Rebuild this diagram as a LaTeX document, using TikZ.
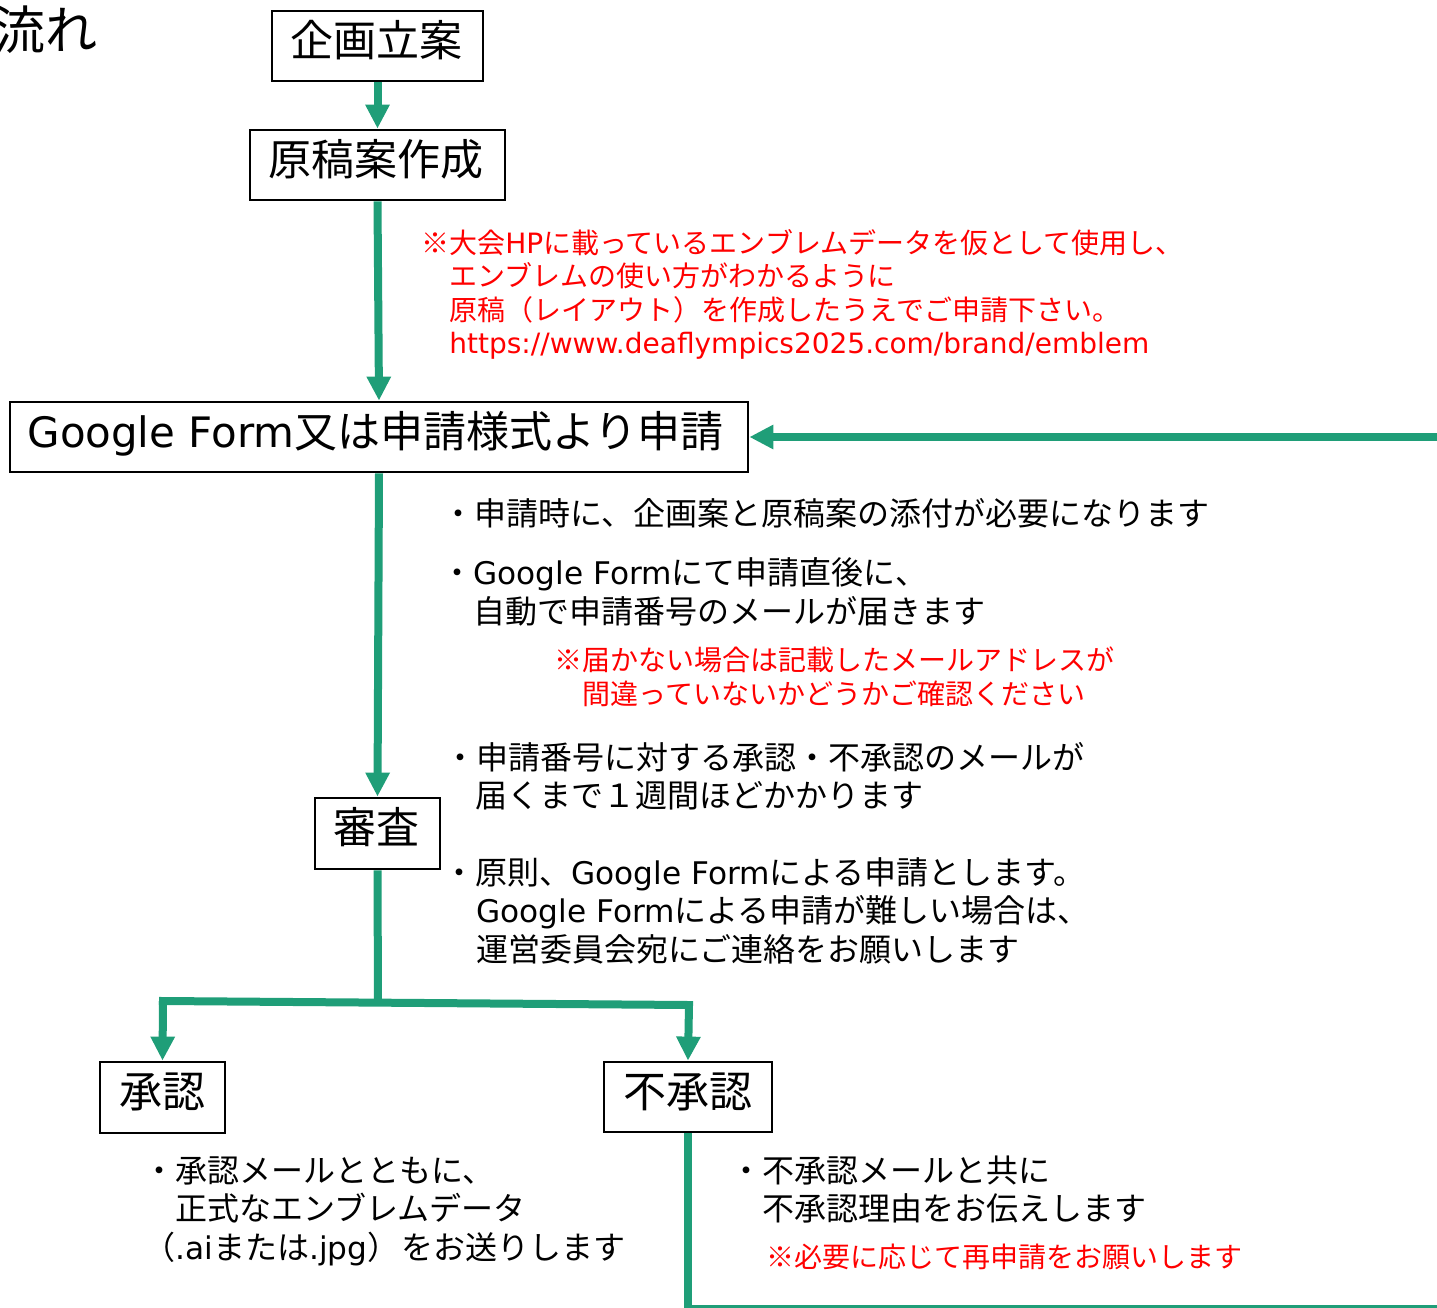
\documentclass[tikz,border=0pt]{standalone}
\usepackage{fontspec}
\usetikzlibrary{arrows.meta}
\setmainfont{Noto Sans CJK JP}
\newfontfamily\latf[Scale=0.975]{DejaVu Sans}
\newfontfamily\urlf[Scale=1.0]{DejaVu Sans}
\newcommand\lat[1]{{\latf #1}}
\definecolor{flow}{HTML}{1F9E78}
\definecolor{note}{HTML}{FF0000}
\tikzset{
  flowbox/.style={draw=black,line width=1.4pt,fill=white,inner sep=0pt,
    font=\fontsize{21.5pt}{21.5pt}\selectfont,text height=18.9pt,text depth=8.6pt,anchor=center},
  body/.style={anchor=west,inner sep=0pt,text=black,
    font=\fontsize{16pt}{16pt}\selectfont,text height=14.1pt,text depth=1.9pt},
  red/.style={anchor=west,inner sep=0pt,text=note,
    font=\fontsize{14pt}{14pt}\selectfont,text height=12.3pt,text depth=1.7pt},
  big/.style={anchor=west,inner sep=0pt,
    font=\fontsize{26pt}{26pt}\selectfont,text height=22.9pt,text depth=3.1pt},
  conn/.style={draw=flow,line width=4pt},
  arr/.style={conn,-{Triangle[width=11.5pt,length=12pt]}},
}
\begin{document}
\begin{tikzpicture}[x=0.5pt,y=-0.5pt]
\useasboundingbox (0,0) rectangle (1437,1308);
\clip (0,0) rectangle (1437,1308);
% coordinates
\coordinate (j0) at (378,1003);
\coordinate (j1) at (163,1001);
\coordinate (j2) at (689,1005);
\coordinate (r1) at (1447,1309);
\coordinate (r2) at (1447,437);
% boxes
\node[big] (title) at (-7,30) {流れ};
\node[flowbox,minimum width=105.5pt,minimum height=35pt] (a) at (377.5,46) {企画立案\kern1pt};
\node[flowbox,minimum width=127.5pt,minimum height=35pt] (b) at (377.5,165) {原稿案作成\kern2pt};
\node[flowbox,minimum width=369pt,minimum height=35pt] (c) at (379,437) {\lat{Google Form}又は申請様式より申請\kern3.5pt};
\node[flowbox,minimum width=62.5pt,minimum height=35.5pt] (d) at (377.5,833.5) {審査\kern1pt};
\node[flowbox,minimum width=62.5pt,minimum height=35.5pt] (e) at (162.5,1097.5) {承認};
\node[flowbox,minimum width=84pt,minimum height=35pt] (f) at (688,1097) {不承認};
% connectors
\draw[arr] (a.south) -- (b.north);
\draw[arr] (b.south) -- (c.north);
\draw[arr] (c.south) -- (d.north);
\draw[conn] (d.south) -- (j0);
\draw[conn,line cap=rect] (j1) -- (j2);
\draw[arr] (j1) -- (e.north);
\draw[arr] (j2) -- (f.north);
\draw[conn] (f.south) |- (r1);
\draw[arr] (r2) -- (r2 -| c.east);
% red note under the draft box
\node[red] (n1) at (421,243) {※大会{\urlf HP}に載っているエンブレムデータを仮として使用し、};
\node[red] (n2) at (449,276) {エンブレムの使い方がわかるように};
\node[red] (n3) at (449,310) {原稿（レイアウト）を作成したうえでご申請下さい。};
\node[red] (n4) at (449,343) {{\urlf https://www.deaflympics2025.com/brand/emblem}};
% application notes
\node[body] (t1) at (442,513) {・申請時に、企画案と原稿案の添付が必要になります};
\node[body] (t2) at (441,572) {・\lat{Google Form}にて申請直後に、};
\node[body] (t3) at (473,611) {自動で申請番号のメールが届きます};
\node[red] (n5) at (554,660) {※届かない場合は記載したメールアドレスが};
\node[red] (n6) at (582,694) {間違っていないかどうかご確認ください};
\node[body] (t4) at (444,757) {・申請番号に対する承認・不承認のメールが};
\node[body] (t5) at (475,795) {届くまで１週間ほどかかります};
\node[body] (t6) at (443,872) {・原則、\lat{Google Form}による申請とします。};
\node[body] (t7) at (476,910) {\lat{Google Form}による申請が難しい場合は、};
\node[body] (t8) at (476,949) {運営委員会宛にご連絡をお願いします};
% outcome notes
\node[body] (u1) at (143,1170) {・承認メールとともに、};
\node[body] (u2) at (175,1208) {正式なエンブレムデータ};
\node[body] (u3) at (143,1247) {（\lat{.ai}または\lat{.jpg}）\kern1pt をお送りします};
\node[body] (v1) at (730,1170) {・不承認メールと共に};
\node[body] (v2) at (762,1208) {不承認理由をお伝えします};
\node[red] (n7) at (766,1257) {※必要に応じて再申請をお願いします};
\end{tikzpicture}
\end{document}
